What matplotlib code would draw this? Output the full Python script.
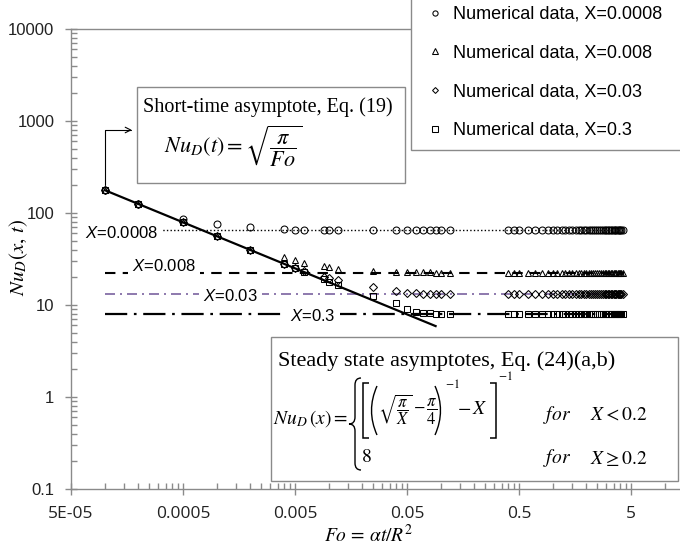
import matplotlib
matplotlib.use("Agg")
import matplotlib.pyplot as plt
import matplotlib.transforms as mtransforms
from matplotlib.patches import Rectangle, PathPatch
from matplotlib.path import Path
from matplotlib.ticker import LogLocator, FixedLocator, FixedFormatter, NullFormatter

plt.rcParams['mathtext.fontset'] = 'custom'
plt.rcParams['mathtext.rm'] = 'Liberation Sans'
plt.rcParams['mathtext.it'] = 'Liberation Sans:italic'
plt.rcParams['font.family'] = ['Liberation Sans', 'DejaVu Sans']

# ---------------- data ----------------
fo = [1e-4, 2e-4, 5e-4, 1e-3, 2e-3, 4e-3, 5e-3, 6e-3, 9e-3, 0.01,
      0.012, 0.025, 0.04, 0.05, 0.06, 0.07, 0.08, 0.09, 0.1, 0.12,
      0.4, 0.45, 0.5, 0.6, 0.7, 0.8, 0.9, 1.0, 1.1, 1.2,
      1.3, 1.4, 1.5, 1.6, 1.7, 1.8, 1.9, 2.0, 2.1, 2.2,
      2.3, 2.4, 2.5, 2.6, 2.7, 2.8, 2.9, 3.0, 3.1, 3.2,
      3.3, 3.4, 3.5, 3.6, 3.7, 3.8, 3.9, 4.0, 4.1, 4.2]

nu_x0008 = [177, 125, 86, 76, 71, 66.5, 66.0, 65.8, 65.5, 65.4,
            65.3, 65.2, 65.2, 65.1, 65.1, 65.1, 65.1, 65.1, 65.1, 65.1,
            65.1, 65.1, 65.1, 65.1, 65.1, 65.1, 65.1, 65.1, 65.1, 65.1,
            65.1, 65.1, 65.1, 65.1, 65.1, 65.1, 65.1, 65.1, 65.1, 65.1,
            65.1, 65.1, 65.1, 65.1, 65.1, 65.1, 65.1, 65.1, 65.1, 65.1,
            65.1, 65.1, 65.1, 65.1, 65.1, 65.1, 65.1, 65.1, 65.1, 65.1]

nu_x008 = [177, 125, 79, 56, 39.6, 33.0, 30.5, 28.5, 26.5, 25.8,
           24.5, 23.5, 23.0, 22.8, 22.7, 22.6, 22.6, 22.5, 22.5, 22.5,
           22.5, 22.5, 22.5, 22.5, 22.5, 22.5, 22.5, 22.5, 22.5, 22.5,
           22.5, 22.5, 22.5, 22.5, 22.5, 22.5, 22.5, 22.5, 22.5, 22.5,
           22.5, 22.5, 22.5, 22.5, 22.5, 22.5, 22.5, 22.5, 22.5, 22.5,
           22.5, 22.5, 22.5, 22.5, 22.5, 22.5, 22.5, 22.5, 22.5, 22.5]

nu_x03 = [177, 125, 79, 56, 39.6, 28.0, 25.2, 23.2, 20.3, 19.5,
          18.7, 15.8, 14.2, 13.6, 13.4, 13.3, 13.3, 13.2, 13.2, 13.2,
          13.2, 13.2, 13.2, 13.2, 13.2, 13.2, 13.2, 13.2, 13.2, 13.2,
          13.2, 13.2, 13.2, 13.2, 13.2, 13.2, 13.2, 13.2, 13.2, 13.2,
          13.2, 13.2, 13.2, 13.2, 13.2, 13.2, 13.2, 13.2, 13.2, 13.2,
          13.2, 13.2, 13.2, 13.2, 13.2, 13.2, 13.2, 13.2, 13.2, 13.2]

nu_x3 = [177, 125, 79, 56, 39.6, 28.0, 25.0, 22.9, 19.2, 17.9,
         16.5, 12.5, 10.4, 9.0, 8.45, 8.2, 8.1, 8.05, 8.0, 8.0,
         8.0, 8.0, 8.0, 8.0, 8.0, 8.0, 8.0, 8.0, 8.0, 8.0,
         8.0, 8.0, 8.0, 8.0, 8.0, 8.0, 8.0, 8.0, 8.0, 8.0,
         8.0, 8.0, 8.0, 8.0, 8.0, 8.0, 8.0, 8.0, 8.0, 8.0,
         8.0, 8.0, 8.0, 8.0, 8.0, 8.0, 8.0, 8.0, 8.0, 8.0]

fo_short = [1e-4, 0.09]
nu_short = [177.2, 5.9]

fo_steady = [1e-4, 4.3]
steady_x0008 = 65.1
steady_x008 = 22.45
steady_x03 = 13.2
steady_x3 = 8.0

series_labels = ["Numerical data, X=0.0008", "Numerical data, X=0.008",
                 "Numerical data, X=0.03", "Numerical data, X=0.3"]
xtick_vals = [5e-5, 5e-4, 5e-3, 5e-2, 0.5, 5]
xtick_labels = ["5E-05", "0.0005", "0.005", "0.05", "0.5", "5"]
ytick_vals = [0.1, 1, 10, 100, 1000, 10000]
ytick_labels = ["0.1", "1", "10", "100", "1000", "10000"]

# ---------------- figure ----------------
W, H = 680, 550
fig = plt.figure(figsize=(W / 100, H / 100), dpi=100)
pix = mtransforms.Affine2D().scale(1.0 / W, -1.0 / H).translate(0, 1) + fig.transFigure

ax_l, ax_r, ax_t, ax_b = 71, 694, 29, 489
ax = fig.add_axes([ax_l / W, 1 - ax_b / H, (ax_r - ax_l) / W, (ax_b - ax_t) / H])
ax.set_xscale('log')
ax.set_yscale('log')
ax.set_xlim(5e-5, 5e-5 * 10 ** ((ax_r - ax_l) / 112.0))
ax.set_ylim(0.1, 1e4)

gray = '#8a8a8a'
for s in ['left', 'bottom', 'top']:
    ax.spines[s].set_color(gray)
    ax.spines[s].set_linewidth(1.0)
ax.spines['right'].set_visible(False)

ax.xaxis.set_major_locator(FixedLocator(xtick_vals))
ax.xaxis.set_major_formatter(FixedFormatter(xtick_labels))
ax.xaxis.set_minor_locator(LogLocator(base=10, subs=(1, 1.5, 2, 2.5, 3, 3.5, 4, 4.5), numticks=100))
ax.xaxis.set_minor_formatter(NullFormatter())
ax.yaxis.set_major_locator(FixedLocator(ytick_vals))
ax.yaxis.set_major_formatter(FixedFormatter(ytick_labels))
ax.yaxis.set_minor_locator(LogLocator(base=10, subs=(2, 3, 4, 5, 6, 7, 8, 9), numticks=100))
ax.yaxis.set_minor_formatter(NullFormatter())

ax.tick_params(which='major', direction='inout', length=8, width=1, color=gray)
ax.tick_params(which='minor', direction='in', length=4, width=1, color=gray)
ax.tick_params(axis='y', which='major', pad=8, labelsize=12, labelcolor='#222222')
ax.tick_params(axis='x', which='major', pad=8, labelsize=12.5, labelcolor='#222222')
for lab in ax.get_xticklabels():
    lab.set_family(['Open Sans', 'DejaVu Sans'])
ax.tick_params(top=False, right=False, which='both')

# steady state asymptotes
ax.plot(fo_steady, [steady_x0008] * 2, color='black', lw=1.0, ls=(0, (1, 1.6)), zorder=2)
ax.plot(fo_steady, [steady_x008] * 2, color='black', lw=1.5, ls=(0, (5, 3.5)), zorder=2)
ax.plot(fo_steady, [steady_x03] * 2, color='#7a62a0', lw=1.2, ls=(0, (6, 3, 1.2, 3)), zorder=2)
ax.plot(fo_steady, [steady_x3] * 2, color='black', lw=1.6, ls=(0, (10, 3, 1.2, 3)), zorder=2)

lab_kw = dict(fontsize=12, va='center', ha='left', zorder=3,
              bbox=dict(fc='white', ec='none', pad=3))
ax.text(6.7e-5, 61, "$X$=0.0008", **lab_kw)
ax.text(1.75e-4, 26.5, "$X$=0.008", **lab_kw)
ax.text(7.5e-4, 12.4, "$X$=0.03", **lab_kw)
ax.text(4.5e-3, 7.6, "$X$=0.3", **lab_kw)

mk = dict(ls='none', mfc='none', mec='black', mew=0.75, ms=5, zorder=4)
h1, = ax.plot(fo, nu_x0008, marker='o', label=series_labels[0], **mk)
h2, = ax.plot(fo, nu_x008, marker='^', label=series_labels[1], **mk)
h3, = ax.plot(fo, nu_x03, marker='D', label=series_labels[2], **dict(mk, ms=4))
h4, = ax.plot(fo, nu_x3, marker='s', label=series_labels[3], **mk)

# short-time asymptote
ax.plot(fo_short, nu_short, color='black', lw=1.6, zorder=5)

# box 1
ax.add_patch(Rectangle((137, 87), 268, 96, transform=pix, fc='white', ec=gray,
                       lw=1.0, zorder=6, clip_on=False))
ax.text(143, 107, "Short-time asymptote, Eq. (19)", transform=pix, fontsize=14.5,
        family=['Liberation Serif'], va='center', ha='left', zorder=7)
ax.text(164, 146, r"$Nu_D(t) = \sqrt{\dfrac{\pi}{Fo}}$", transform=pix, fontsize=16,
        math_fontfamily='stix', va='center', ha='left', zorder=7)
ax.annotate("", xy=(132, 130), xycoords=pix, xytext=(fo[0], nu_x3[0]), textcoords='data',
            arrowprops=dict(arrowstyle='->', color='black', lw=0.8, shrinkA=4, shrinkB=0,
                            connectionstyle='angle,angleA=90,angleB=0,rad=0'),
            zorder=7)

# box 2
ax.add_patch(Rectangle((271, 337), 407, 144, transform=pix, fc='white', ec=gray,
                       lw=1.0, zorder=6, clip_on=False))
ax.text(278, 361, "Steady state asymptotes, Eq. (24)(a,b)", transform=pix, fontsize=16,
        family=['Liberation Serif'], va='center', ha='left', zorder=7)
ax.text(273, 419, r"$Nu_D\,(x) =$", transform=pix, fontsize=14,
        math_fontfamily='stix', va='center', ha='left', zorder=7)


def stroke(verts, codes=None, lw=1.0):
    ax.add_patch(PathPatch(Path(verts, codes), transform=pix, fc='none', ec='black',
                           lw=lw, zorder=7, clip_on=False, capstyle='butt', joinstyle='miter'))


# curly brace
bx0, bx1, bx2 = 349, 355, 361
by0, by1, by2 = 378, 424, 470
C3, L2, M = Path.CURVE3, Path.LINETO, Path.MOVETO
stroke([(bx2, by0), (bx1, by0), (bx1, by0 + 7), (bx1, by1 - 7), (bx1, by1), (bx0, by1),
        (bx1, by1), (bx1, by1 + 7), (bx1, by2 - 7), (bx1, by2), (bx2, by2)],
       [M, C3, C3, L2, C3, C3, C3, C3, L2, C3, C3])
# square brackets and parentheses of the first case
stroke([(369, 383), (363, 383), (363, 438), (369, 438)], [M, L2, L2, L2], lw=1.1)
stroke([(490, 383), (496, 383), (496, 438), (490, 438)], [M, L2, L2, L2], lw=1.1)
stroke([(377, 386), (366, 410.5), (377, 435)], [M, C3, C3], lw=1.0)
stroke([(435, 386), (446, 410.5), (435, 435)], [M, C3, C3], lw=1.0)
ax.text(378, 410, r"$\sqrt{\dfrac{\pi}{X}}-\dfrac{\pi}{4}$", transform=pix, fontsize=12,
        math_fontfamily='stix', va='center', ha='left', zorder=7)
ax.text(445, 384, r"$-1$", transform=pix, fontsize=8.5,
        math_fontfamily='stix', va='center', ha='left', zorder=7)
ax.text(457, 409, r"$-\,X$", transform=pix, fontsize=14,
        math_fontfamily='stix', va='center', ha='left', zorder=7)
ax.text(498, 377, r"$-1$", transform=pix, fontsize=8.5,
        math_fontfamily='stix', va='center', ha='left', zorder=7)

ax.text(543, 415, r"$\mathit{for}$", transform=pix, fontsize=14,
        math_fontfamily='stix', va='center', ha='left', zorder=7)
ax.text(590, 415, r"$X<0.2$", transform=pix, fontsize=14,
        math_fontfamily='stix', va='center', ha='left', zorder=7)
ax.text(361, 458, r"$8$", transform=pix, fontsize=14,
        math_fontfamily='stix', va='center', ha='left', zorder=7)
ax.text(543, 458, r"$\mathit{for}$", transform=pix, fontsize=14,
        math_fontfamily='stix', va='center', ha='left', zorder=7)
ax.text(590, 458, r"$X\geq 0.2$", transform=pix, fontsize=14,
        math_fontfamily='stix', va='center', ha='left', zorder=7)

# axis labels
ax.text(19, 258, r"$Nu_D(x,\, t)$", transform=pix, fontsize=15, rotation=90,
        math_fontfamily='stix', va='center', ha='center')
ax.text(369, 535, r"$Fo\,=\,\alpha t/R^2$", transform=pix, fontsize=14,
        math_fontfamily='stix', va='center', ha='center')

# legend
ax.add_patch(Rectangle((411, -20), 300, 170, transform=pix, fc='white', ec=gray,
                       lw=1.0, zorder=10, clip_on=False))
leg = ax.legend(handles=[h1, h2, h3, h4], loc='upper left', bbox_to_anchor=(411, -5),
                bbox_transform=pix, frameon=False, fontsize=13, borderpad=0.6,
                handlelength=1.45, handletextpad=0.25, labelspacing=1.2,
                markerscale=0.75, borderaxespad=0)
leg.set_zorder(11)

fig.savefig("out.png", dpi=100)
